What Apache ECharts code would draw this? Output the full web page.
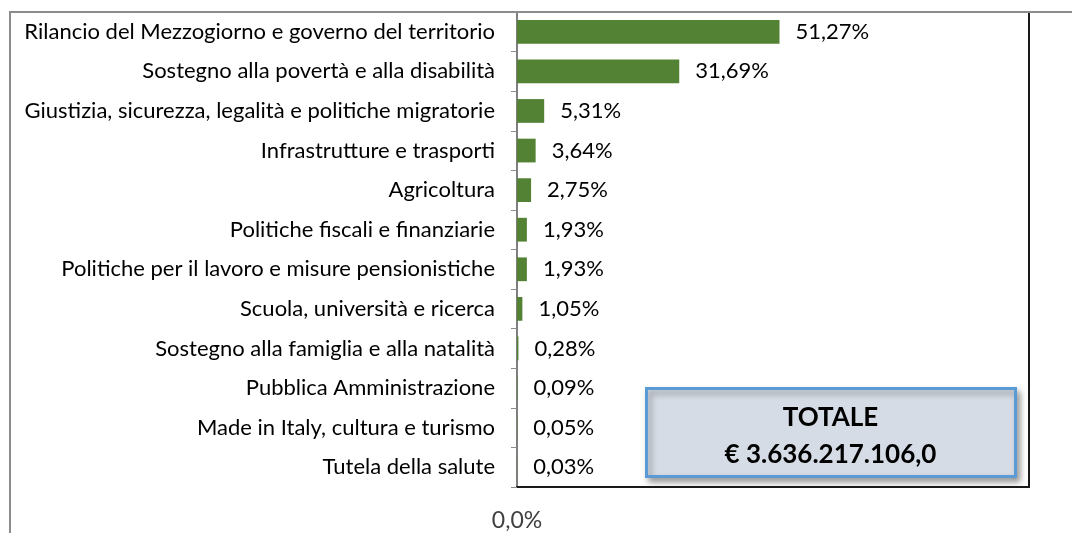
<!DOCTYPE html>
<html>
<head>
<meta charset="utf-8">
<script src="https://cdn.jsdelivr.net/npm/echarts@6/dist/echarts.min.js"></script>
<style>
  html, body { margin: 0; padding: 0; background: #fff; }
  #chart { width: 1072px; height: 533px; }
</style>
</head>
<body>
<div id="chart"></div>
<script>
// categorie (dall'alto verso il basso)
const categories = [
    "Rilancio del Mezzogiorno e governo del territorio",
    "Sostegno alla povertà e alla disabilità",
    "Giustizia, sicurezza, legalità e politiche migratorie",
    "Infrastrutture e trasporti",
    "Agricoltura",
    "Politiche fiscali e finanziarie",
    "Politiche per il lavoro e misure pensionistiche",
    "Scuola, università e ricerca",
    "Sostegno alla famiglia e alla natalità",
    "Pubblica Amministrazione",
    "Made in Italy, cultura e turismo",
    "Tutela della salute"
]
// quota percentuale
const shares = [51.27, 31.69, 5.31, 3.64, 2.75, 1.93, 1.93, 1.05, 0.28, 0.09, 0.05, 0.03]
const axisMin = 0
const axisMax = 100
const totalLabel = "TOTALE"
const totalValue = "€ 3.636.217.106,0"

const FONT = "Lato"

// formato italiano con la virgola
function itPct(v, digits){
    return v.toFixed(digits).replace('.', ',') + '%'
}

let option = {
    animation: false,
    backgroundColor: '#ffffff',
    grid: {
        left: 517,
        right: 43,
        top: 12,
        bottom: 46
    },
    xAxis: [{
        type: 'value',
        min: axisMin,
        max: axisMax,
        interval: 100,
        splitLine: { show: false },
        axisLine: { show: true, lineStyle: { color: '#1a1a1a', width: 2 } },
        axisTick: { show: false },
        axisLabel: {
            margin: 22,
            fontFamily: FONT,
            fontSize: 23,
            color: '#404040',
            showMaxLabel: false,
            formatter: v => v === 0 ? itPct(v, 1) : ''
        }
    }],
    yAxis: [{
        type: 'category',
        data: categories,
        inverse: true,
        axisLine: { show: true, lineStyle: { color: '#7f7f7f', width: 2 } },
        axisTick: { show: true, length: 6, lineStyle: { color: '#8c8c8c', width: 1 } },
        axisLabel: {
            margin: 22,
            fontFamily: FONT,
            fontSize: 22,
            color: '#000000'
        }
    }, {
        type: 'category',
        data: categories,
        inverse: true,
        position: 'right',
        axisLine: { show: true, lineStyle: { color: '#1a1a1a', width: 2 } },
        axisTick: { show: false },
        axisLabel: { show: false }
    }],
    series: [{
        type: 'bar',
        data: shares,
        barCategoryGap: '40%',
        itemStyle: { color: '#548235' },
        label: {
            show: true,
            position: 'right',
            distance: 16,
            fontFamily: FONT,
            fontSize: 22,
            color: '#000000',
            formatter: p => itPct(p.value, 2)
        }
    }],
    graphic: [{
        // cornice esterna (solo sinistra e alto)
        type: 'polyline',
        shape: { points: [[10, 533], [10, 12], [1072, 12]] },
        style: { stroke: '#8c8c8c', lineWidth: 2, fill: null },
        z: 1
    }, {
        type: 'group',
        left: 645,
        top: 387,
        z: 10,
        children: [{
            type: 'rect',
            shape: { x: 0, y: 0, width: 369, height: 88 },
            style: {
                fill: '#d6dce5',
                stroke: '#5b9bd5',
                lineWidth: 3,
                shadowBlur: 6,
                shadowOffsetX: 3,
                shadowOffsetY: 4,
                shadowColor: 'rgba(0,0,0,0.35)'
            }
        }, {
            type: 'text',
            x: 184,
            y: 29,
            style: {
                text: totalLabel,
                fontFamily: FONT,
                fontWeight: 'bold',
                fontSize: 26,
                fill: '#000',
                align: 'center',
                verticalAlign: 'middle'
            }
        }, {
            type: 'text',
            x: 184,
            y: 66,
            style: {
                text: totalValue,
                fontFamily: FONT,
                fontWeight: 'bold',
                fontSize: 26,
                fill: '#000',
                align: 'center',
                verticalAlign: 'middle'
            }
        }]
    }]
}

let chartDom = echarts.init(document.querySelector("#chart"))
chartDom.setOption(option)
</script>
</body>
</html>
